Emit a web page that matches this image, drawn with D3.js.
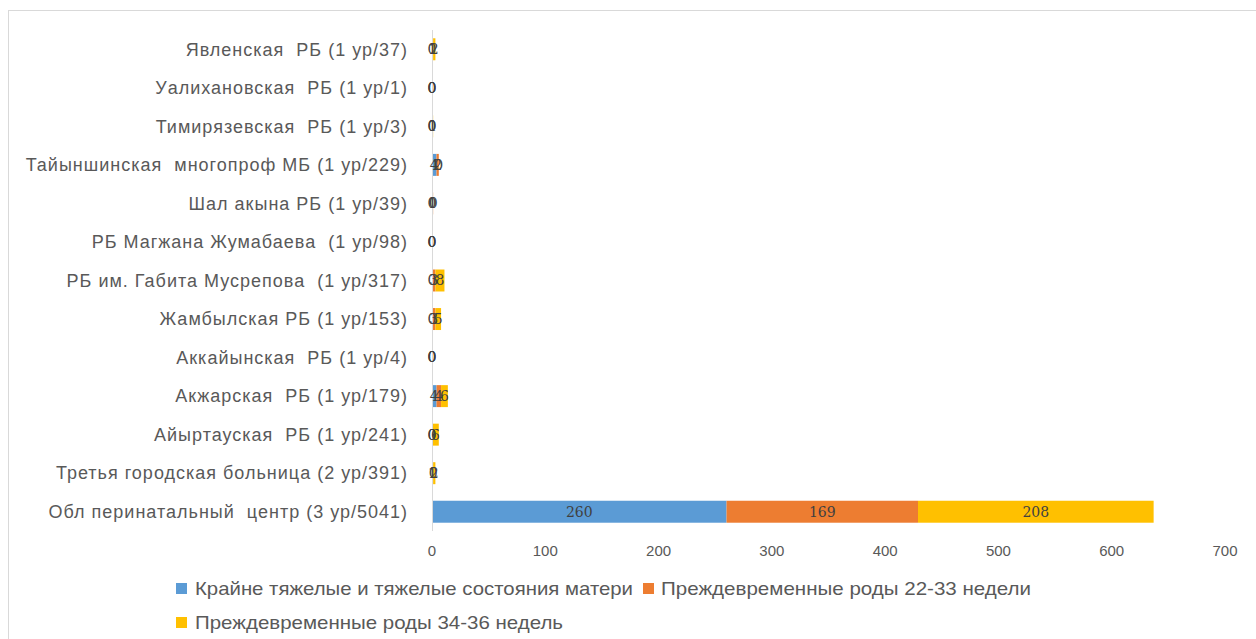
<!DOCTYPE html>
<html><head><meta charset="utf-8">
<script src="https://cdn.jsdelivr.net/npm/d3@7"></script>
<style>
html,body{margin:0;padding:0;background:#fff;}
text{white-space:pre;}
</style></head>
<body><svg id="chart" width="1256" height="639"></svg>
<script>
const categories = [
  "Явленская  РБ (1 ур/37)",
  "Уалихановская  РБ (1 ур/1)",
  "Тимирязевская  РБ (1 ур/3)",
  "Тайыншинская  многопроф МБ (1 ур/229)",
  "Шал акына РБ (1 ур/39)",
  "РБ Магжана Жумабаева  (1 ур/98)",
  "РБ им. Габита Мусрепова  (1 ур/317)",
  "Жамбылская РБ (1 ур/153)",
  "Аккайынская  РБ (1 ур/4)",
  "Акжарская  РБ (1 ур/179)",
  "Айыртауская  РБ (1 ур/241)",
  "Третья городская больница (2 ур/391)",
  "Обл перинатальный  центр (3 ур/5041)"
];
const severeMaternal = [0, 0, 0, 4, 0, 0, 0, 0, 0, 4, 0, 1, 260];
const preterm22_33   = [1, 0, 0, 2, 1, 0, 3, 3, 0, 4, 0, 0, 169];
const preterm34_36   = [2, 0, 1, 0, 0, 0, 8, 5, 0, 6, 6, 2, 208];
const seriesNames = [
  "Крайне тяжелые и тяжелые состояния матери",
  "Преждевременные роды 22-33 недели",
  "Преждевременные роды 34-36 недель"
];
const xTicks = [0, 100, 200, 300, 400, 500, 600, 700];
const colors = ["#5B9BD5", "#ED7D31", "#FFC000"];

const svg = d3.select("#chart");
svg.append("rect").attr("x", 8.5).attr("y", 10.5).attr("width", 1260).attr("height", 640)
  .attr("fill", "none").attr("stroke", "#d9d9d9");

const x = d3.scaleLinear().domain([0, 700]).range([432, 1225]);
const y = d3.scaleBand().domain(categories).range([30, 531]).paddingInner(0.43).paddingOuter(0.215);

const seriesArr = [severeMaternal, preterm22_33, preterm34_36];
const rows = categories.map((c, i) => ({cat: c, v: seriesArr.map(s => s[i])}));
const stack = d3.stack().keys([0, 1, 2]).value((d, k) => d.v[k]);
const stacked = stack(rows);

const fontCat = "'Liberation Sans', Arial, sans-serif";

stacked.forEach((layer, k) => {
  svg.append("g").selectAll("rect").data(layer).join("rect")
    .attr("x", d => x(d[0]))
    .attr("y", d => y(d.data.cat))
    .attr("width", d => x(d[1]) - x(d[0]))
    .attr("height", y.bandwidth())
    .attr("fill", colors[k]);
});

// axis line
svg.append("line").attr("x1", 432.5).attr("x2", 432.5).attr("y1", 30).attr("y2", 531)
  .attr("stroke", "#d9d9d9").attr("stroke-width", 1);

// category labels
svg.append("g").selectAll("text").data(categories).join("text")
  .attr("x", 408).attr("y", d => y(d) + y.bandwidth() / 2)
  .attr("dy", "0.35em").attr("text-anchor", "end")
  .attr("font-family", fontCat).attr("font-size", 18).attr("letter-spacing", 1)
  .attr("fill", "#595959")
  .text(d => d);

// data labels
stacked.forEach((layer, k) => {
  svg.append("g").selectAll("text").data(layer).join("text")
    .attr("x", d => (x(d[0]) + x(d[1])) / 2)
    .attr("y", d => y(d.data.cat) + y.bandwidth() / 2)
    .attr("dy", "0.35em").attr("text-anchor", "middle")
    .attr("font-family", "'DejaVu Serif', serif").attr("font-size", 14).attr("fill", "#404040")
    .text(d => d[1] - d[0]);
});

// x tick labels
svg.append("g").selectAll("text").data(xTicks).join("text")
  .attr("x", d => x(d)).attr("y", 551).attr("dy", "0.35em").attr("text-anchor", "middle")
  .attr("font-family", "'Liberation Sans Narrow', 'Liberation Sans', sans-serif").attr("font-size", 15).attr("fill", "#595959")
  .text(d => d);

// legend
const legendItems = [
  {name: seriesNames[0], color: colors[0], sx: 176, tx: 195, tw: 438, y: 588},
  {name: seriesNames[1], color: colors[1], sx: 643, tx: 661, tw: 370, y: 588},
  {name: seriesNames[2], color: colors[2], sx: 176, tx: 195, tw: 368, y: 622}
];
const lg = svg.append("g");
lg.selectAll("rect").data(legendItems).join("rect")
  .attr("x", d => d.sx).attr("y", d => d.y - 5).attr("width", 11).attr("height", 11)
  .attr("fill", d => d.color);
lg.selectAll("text").data(legendItems).join("text")
  .attr("x", d => d.tx).attr("y", d => d.y).attr("dy", "0.35em")
  .attr("font-family", "'Liberation Sans Narrow', 'Liberation Sans', sans-serif").attr("font-size", 19).attr("fill", "#595959")
  .attr("textLength", d => d.tw).attr("lengthAdjust", "spacingAndGlyphs")
  .text(d => d.name);
</script></body></html>
